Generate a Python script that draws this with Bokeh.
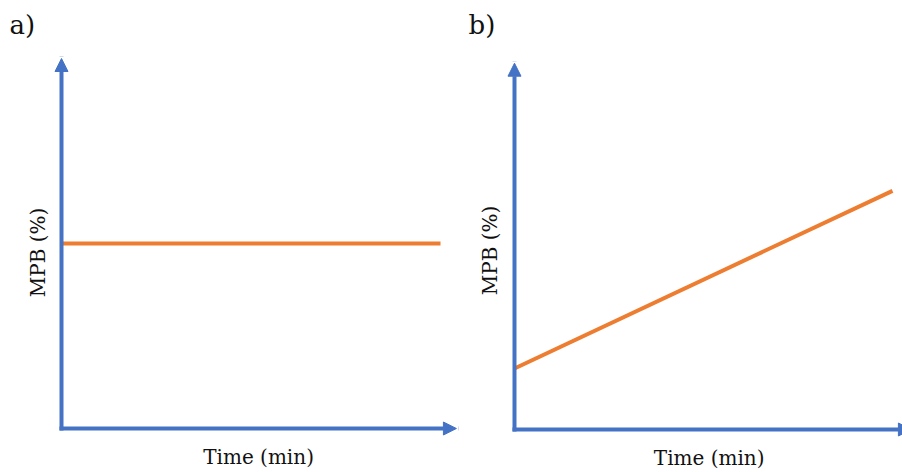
from bokeh.plotting import figure
from bokeh.layouts import row
from bokeh.models import Arrow, NormalHead, Label, Range1d
from bokeh.embed import file_html
from bokeh.resources import INLINE

# ---- data ----
panel_tags = ["a)", "b)"]
y_title = "MPB (%)"
x_title = "Time (min)"

time_a = [0, 10]
mpb_a = [5.0, 5.0]

time_b = [0, 10]
mpb_b = [1.65, 6.45]

time_axis_max_a = 10.42
time_axis_max_b = 10.5
mpb_axis_max_a = 10.0
mpb_axis_max_b = 9.9

BLUE = "#4472C4"
ORANGE = "#ED7D31"
TEXT = "#111111"
FONT = "DejaVu Serif"
H = 470


def make_panel(width, xr, yr, tx, ty, tag, x_max, y_max, label_pos):
    p = figure(width=width, height=H, output_backend="svg", toolbar_location=None,
               x_range=Range1d(*xr), y_range=Range1d(*yr),
               x_axis_location=None, y_axis_location=None,
               min_border=0, min_border_left=0, min_border_right=0,
               min_border_top=0, min_border_bottom=0)
    p.grid.visible = False
    p.outline_line_color = None
    p.background_fill_color = "white"
    p.border_fill_color = "white"

    # axes as arrows
    p.add_layout(Arrow(end=NormalHead(size=13, fill_color=BLUE, line_color=BLUE, line_width=1),
                       x_start=0, y_start=0, x_end=0, y_end=y_max,
                       line_color=BLUE, line_width=4, line_cap="square"))
    p.add_layout(Arrow(end=NormalHead(size=13, fill_color=BLUE, line_color=BLUE, line_width=1),
                       x_start=0, y_start=0, x_end=x_max, y_end=0,
                       line_color=BLUE, line_width=4, line_cap="square"))

    p.line(tx, ty, line_color=ORANGE, line_width=4)

    (tag_x, tag_y), (yl_x, yl_y), (xl_x, xl_y) = label_pos
    p.add_layout(Label(x=tag_x, y=tag_y, x_units="screen", y_units="screen", text=tag,
                       text_font=FONT, text_font_size="26px", text_color=TEXT,
                       text_align="left", text_baseline="middle"))
    p.add_layout(Label(x=yl_x, y=yl_y, text=y_title, angle=90, angle_units="deg",
                       text_font=FONT, text_font_size="20px", text_color=TEXT,
                       text_align="center", text_baseline="middle"))
    p.add_layout(Label(x=xl_x, y=xl_y, text=x_title,
                       text_font=FONT, text_font_size="20px", text_color=TEXT,
                       text_align="center", text_baseline="middle"))
    return p


# panel a: origin at page (61, 428); 37.9 px per time unit, 37 px per MPB unit
pa = make_panel(465, (-1.6095, 10.6596), (-1.1351, 11.5676), time_a, mpb_a, panel_tags[0],
                time_axis_max_a, mpb_axis_max_a,
                ((9, H - 24), (-0.633, 4.76), (5.2, -0.77)))
# panel b: origin at page (514, 429); 37.8 px per time unit, 37 px per MPB unit
pb = make_panel(437, (-1.2963, 10.2646), (-1.1081, 11.5946), time_b, mpb_b, panel_tags[1],
                time_axis_max_b, mpb_axis_max_b,
                ((3, H - 24), (-0.635, 4.84), (5.15, -0.77)))

layout = row(pa, pb, spacing=0)
open("out.html", "w").write(file_html(layout, INLINE))
